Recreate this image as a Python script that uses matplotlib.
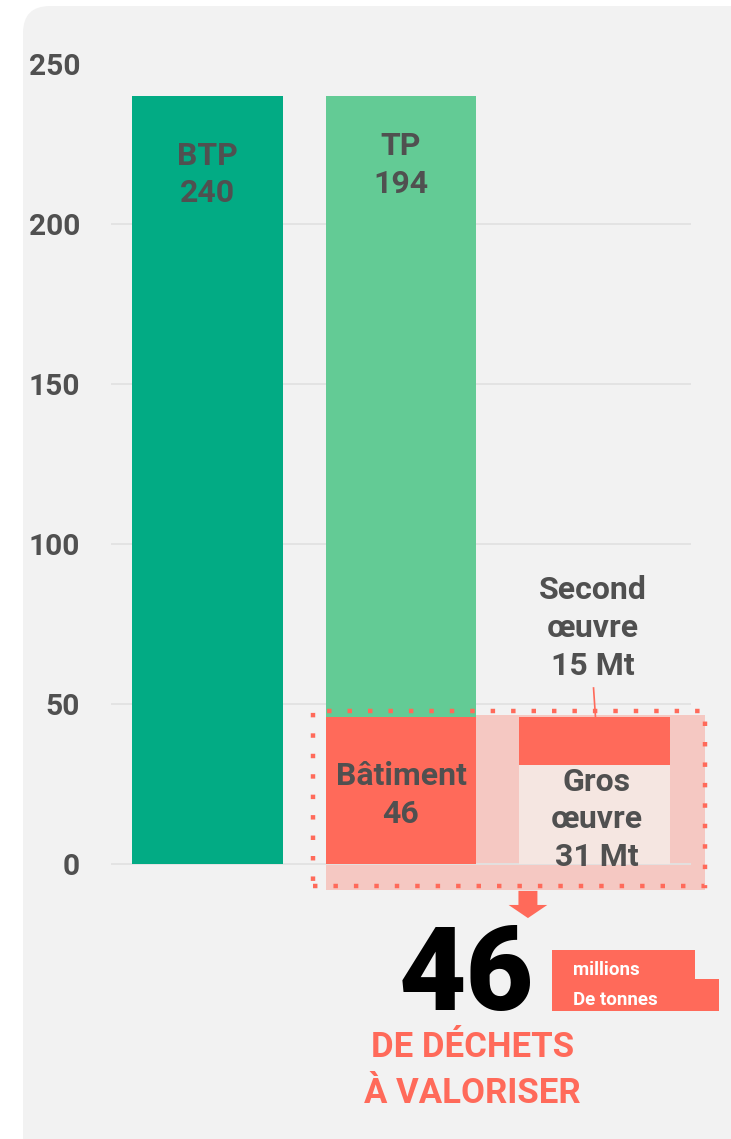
import numpy as np
import matplotlib.pyplot as plt
from matplotlib.patches import Rectangle, FancyBboxPatch, Polygon

plt.rcParams['font.family'] = ['Roboto', 'DejaVu Sans']

# données (millions de tonnes)
categories = ['BTP', 'TP / Bâtiment', 'Bâtiment détail']
btp = 240
tp = 194
batiment = 46
gros_oeuvre = 31
second_oeuvre = 15
yticks = [0, 50, 100, 150, 200, 250]

c_btp = '#02ab84'
c_tp = '#63cb95'
c_coral = '#ff6a5a'
c_pink = '#f5c8c2'
c_gros = '#f5e6e1'
c_text = '#505050'
c_panel = '#f2f2f2'

W, H = 731, 1139
fig = plt.figure(figsize=(W / 100, H / 100), dpi=100)

# panneau gris arrondi
panel = FancyBboxPatch((0.23, -0.5), 7.6, 11.83, boxstyle='round,pad=0,rounding_size=0.27',
                       transform=fig.dpi_scale_trans, facecolor=c_panel, edgecolor='none', zorder=-5)
fig.patches.append(panel)

ax = fig.add_axes([110.75 / W, 0.20773, 580.5 / W, 0.75013])
ax.set_facecolor('none')
ax.set_xlim(-0.5, 2.5)
ax.set_ylim(-12, 255)
for s in ax.spines.values():
    s.set_visible(False)
ax.set_xticks([])
ax.set_yticks(yticks)
ax.set_yticklabels([str(v) for v in yticks], fontsize=21.5, fontweight='bold', color=c_text)
ax.tick_params(axis='y', length=0, pad=22)

# grille (sans la ligne du haut)
ax.hlines(yticks[:-1], -0.5, 2.5, color='#e2e2e2', lw=1.3, zorder=1)

x = np.arange(len(categories))
w = 0.78

# zone de mise en valeur
left = x[1] - w / 2
right = x[2] + w / 2 + 0.18
ax.add_patch(Rectangle((left, -8.1), right - left, batiment + 8.6, facecolor=c_pink,
                       edgecolor='none', zorder=0.5, clip_on=False))

ax.bar(x[0], btp, width=w, color=c_btp, zorder=2)
ax.bar(x[1], batiment, width=w, color=c_coral, zorder=2)
ax.bar(x[1], tp, width=w, bottom=batiment, color=c_tp, zorder=2)
ax.bar(x[2], gros_oeuvre, width=w, color=c_gros, zorder=2)
ax.bar(x[2], second_oeuvre, width=w, bottom=gros_oeuvre, color=c_coral, zorder=2)

# bordure pointillée
dl = x[1] - w / 2 - 0.063
ax.add_patch(Rectangle((dl, -6.9), right - dl, batiment + 1.8 + 6.9, facecolor='none',
                       edgecolor=c_coral, lw=3.2, linestyle=(0, (1, 3.6)), capstyle='butt',
                       zorder=4, clip_on=False))

lab = dict(ha='center', va='center', fontsize=23, fontweight='bold', color=c_text,
           linespacing=1.32, zorder=5)
ax.text(x[0], btp - 24.5, f'BTP\n{btp}', **lab)
ax.text(x[1], btp - 21.5, f'TP\n{tp}', **lab)
ax.text(x[1], batiment / 2 - 1.5, f'Bâtiment\n{batiment}', **lab)
ax.text(x[2] + 0.01, gros_oeuvre / 2 - 1.5, f'Gros\nœuvre\n{gros_oeuvre} Mt', **lab)
ax.text(x[2] - 0.01, gros_oeuvre + second_oeuvre + 27.7, f'Second\nœuvre\n{second_oeuvre} Mt', **lab)
ax.plot([x[2] - 0.005, x[2] + 0.005], [55.0, gros_oeuvre + second_oeuvre], color=c_coral, lw=1.2, zorder=5)

# flèche vers le bas
ac = 1.656
ax.add_patch(Polygon([(ac - 0.049, -8.4), (ac + 0.049, -8.4), (ac + 0.049, -12.8), (ac + 0.1, -12.8),
                      (ac, -16.9), (ac - 0.1, -12.8), (ac - 0.049, -12.8)],
                     closed=True, facecolor=c_coral, edgecolor='none', clip_on=False, zorder=4))

# bloc de texte du bas
fig.text(466 / W, 1 - 1010 / H, str(batiment), ha='center', va='baseline', fontsize=84,
         fontweight='black', color='black')
fig.patches.append(Rectangle((552 / W, 1 - 1011 / H), (695 - 552) / W, 61 / H, transform=fig.transFigure,
                             facecolor=c_coral, edgecolor='none'))
fig.patches.append(Rectangle((552 / W, 1 - 1011 / H), (719 - 552) / W, 32 / H, transform=fig.transFigure,
                             facecolor=c_coral, edgecolor='none'))
fig.text(573 / W, 1 - 975 / H, 'millions', ha='left', va='baseline', fontsize=13.5,
         fontweight='bold', color='white')
fig.text(573 / W, 1 - 1005 / H, 'De tonnes', ha='left', va='baseline', fontsize=13.5,
         fontweight='bold', color='white')
fig.text(473 / W, 1 - 1057 / H, 'DE DÉCHETS', ha='center', va='baseline', fontsize=25,
         fontweight='bold', color=c_coral)
fig.text(472 / W, 1 - 1103 / H, 'À VALORISER', ha='center', va='baseline', fontsize=25,
         fontweight='bold', color=c_coral)

fig.savefig('out.png', dpi=100, facecolor='white')
